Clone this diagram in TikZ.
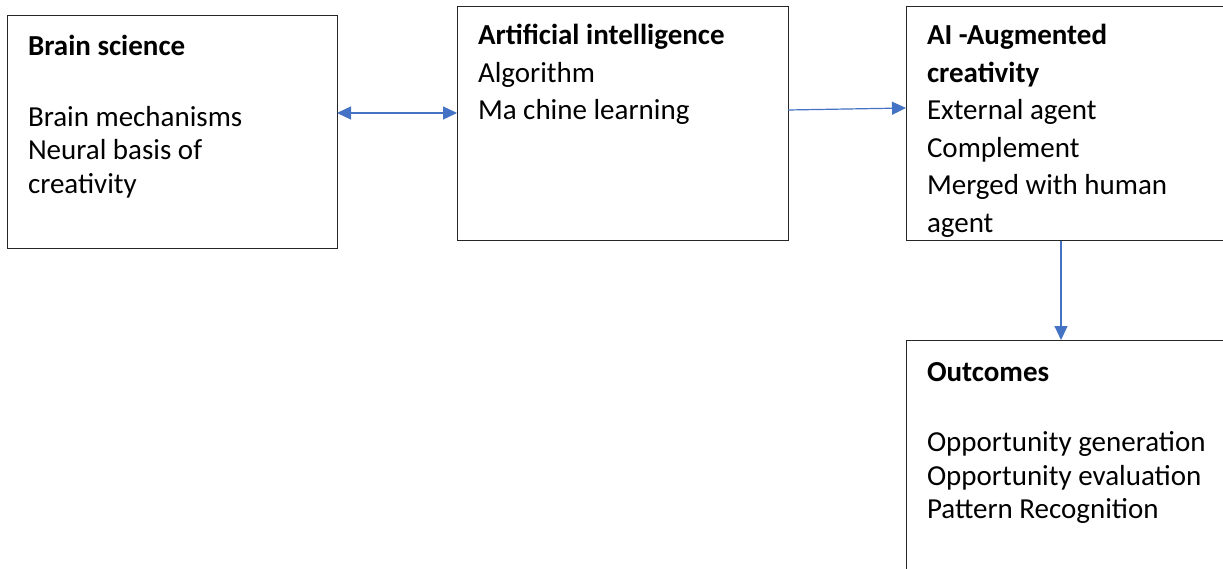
\documentclass[tikz,border=0pt]{standalone}
\usepackage{fontspec}
\setmainfont{Carlito}
\usetikzlibrary{arrows.meta, positioning, calc}
\newcommand{\topline}{\rule{0pt}{22pt}}

\begin{document}
\begin{tikzpicture}[x=1pt, y=-1pt, font=\fontsize{29}{33.5}\selectfont]
\tikzset{every node/.style={inner sep=0mm, outer sep=0mm}}

\definecolor{linkblue}{HTML}{4472C4}
\tikzstyle{box}=[rectangle, draw=black!85, line width=1pt, anchor=north west]
\tikzstyle{label}=[align=left]
\tikzstyle{loose}=[font=\fontsize{29}{37.5}\selectfont]
\tikzstyle{post}=[-{Triangle[length=14pt, width=13pt]}, draw=linkblue, line width=1.2pt]
\tikzstyle{both}=[{Triangle[length=14pt, width=13pt]}-{Triangle[length=14pt, width=13pt]}, draw=linkblue, line width=1.2pt]

\useasboundingbox (0,0) rectangle (1223,569);
\clip (0,0) rectangle (1223,569);

\node[box, minimum width=329.5pt, minimum height=233pt] (brain) at (7.5,16) {};
\node[box, minimum width=331pt, minimum height=234pt] (ai) at (457,7) {};
\node[box, minimum width=340pt, minimum height=234pt] (aug) at (906,7) {};
\node[box, minimum width=340pt, minimum height=260pt] (out) at (906,340) {};

\node[label, below right=18pt and 20.5pt of brain.north west] (brain label)
    {\topline\textbf{Brain science}\\[37pt]Brain mechanisms\\Neural basis of\\creativity};

\node[label, loose, below right=16pt and 21pt of ai.north west] (ai label)
    {\topline\textbf{Artificial intelligence}\\Algorithm\\Ma chine learning};

\node[label, loose, below right=16pt and 21pt of aug.north west] (aug label)
    {\topline\textbf{AI -Augmented}\\\textbf{creativity}\\External agent\\Complement\\Merged with human\\agent};

\node[label, below right=19pt and 21pt of out.north west] (out label)
    {\topline\textbf{Outcomes}\\[37pt]Opportunity generation\\Opportunity evaluation\\Pattern Recognition};

\draw[both] ([yshift=-97pt]brain.north east) -- ([yshift=-106pt]ai.north west);
\draw[post] ([yshift=-103pt]ai.north east) -- ([yshift=-101pt]aug.north west);
\draw[post] ([xshift=155pt]aug.south west) -- ([xshift=155pt]out.north west);

\end{tikzpicture}
\end{document}
